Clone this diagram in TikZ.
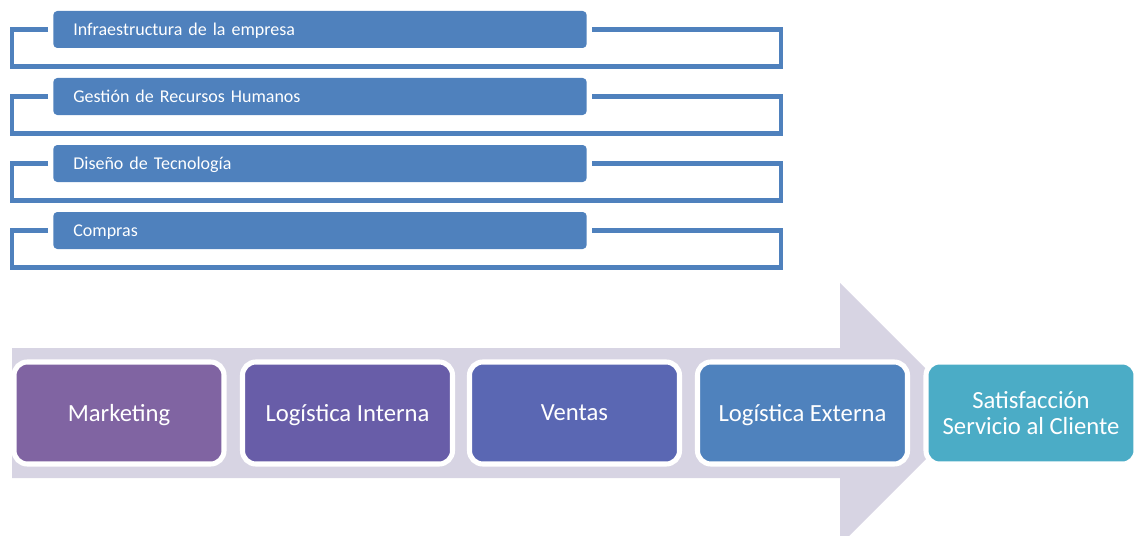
\documentclass[tikz,border=0pt]{standalone}
\usepackage{fontspec}
\setmainfont{Carlito}
\usepackage{xcolor}
\definecolor{supportblue}{HTML}{4F81BD}
\definecolor{bandgrey}{HTML}{D7D4E3}
\definecolor{mktpurple}{HTML}{8064A2}
\definecolor{inviolet}{HTML}{685DA8}
\definecolor{salesblue}{HTML}{5A67B3}
\definecolor{outblue}{HTML}{4F82BD}
\definecolor{clientteal}{HTML}{4BACC6}
\begin{document}
\begin{tikzpicture}[
    x=0.75pt, y=-0.75pt,
    support/.style={
        fill=supportblue,
        rounded corners=3pt,
        text width=370pt,
        inner xsep=15pt,
        minimum height=27.75pt,
        text depth=0pt,
        font=\fontsize{13.5}{15}\selectfont,
        text=white,
        align=left,
    },
    bracket/.style={
        draw=supportblue,
        line width=3.4pt,
    },
    primary/.style={
        draw=white,
        line width=3.8pt,
        rounded corners=10pt,
        minimum width=157.5pt,
        minimum height=76.5pt,
        text depth=0pt,
        font=\fontsize{18.5}{20}\selectfont,
        text=white,
        align=center,
    },
]
\useasboundingbox (0,0) rectangle (1134,535);

% support activities
\foreach \label [count=\i from 0] in {Infraestructura de la empresa, Gestión de Recursos Humanos, Diseño de Tecnología, Compras} {
    \node[support] (S\i) at (320, 29.5+67*\i) {\label};
    \draw[bracket] ([xshift=-3.75pt]S\i.west) -- (12, 29.5+67*\i) -- (12, 66.5+67*\i)
        -- (781, 66.5+67*\i) -- (781, 29.5+67*\i) -- ([xshift=3.75pt]S\i.east);
}

% value chain arrow
\fill[bandgrey] (12,348) -- (840,348) -- (840,283) -- (971,414) -- (840,545)
    -- (840,478) -- (12,478) -- cycle;

% primary activities
\node[primary, fill=mktpurple] (P1) at (119, 413) {Marketing};
\node[primary, fill=inviolet] (P2) at (347.5, 413) {Logística Interna};
\node[primary, fill=salesblue] (P3) at (574.5, 413) {Ventas};
\node[primary, fill=outblue] (P4) at (802.5, 413) {Logística Externa};
\node[primary, fill=clientteal] (P5) at (1031, 413) {Satisfacción\\Servicio al Cliente};

\end{tikzpicture}
\end{document}
